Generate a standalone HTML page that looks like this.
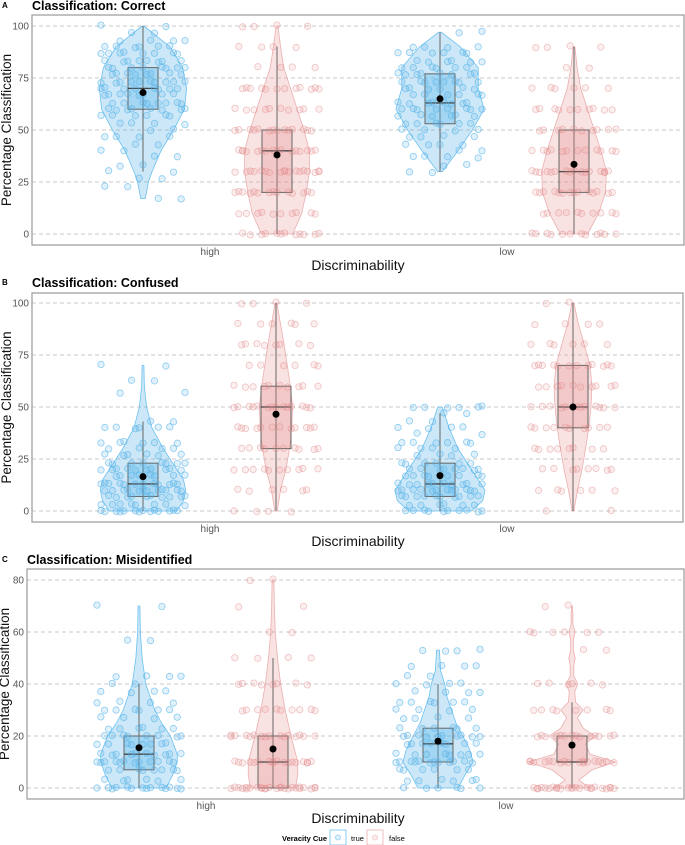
<!DOCTYPE html>
<html><head><meta charset="utf-8">
<style>
body{margin:0;background:#fff;}
svg{display:block;font-family:"Liberation Sans",sans-serif;}
</style></head>
<body>
<svg id="chart" width="685" height="845" viewBox="0 0 685 845"></svg>
<script>
// ---------- data ----------
const categories = ["high","low"];
const groups = ["true","false"];
const panelTitles = ["Classification: Correct","Classification: Confused","Classification: Misidentified"];
const panelLetters = ["A","B","C"];
const tickLabelsA = [0,25,50,75,100];
const tickLabelsB = [0,25,50,75,100];
const tickLabelsC = [0,20,40,60,80];
const q1s   = [60,20,53,20,  7,30,7,40,  7,0,10,10];
const meds  = [70,40,63,30, 13,50,13,50, 13,10,17,10];
const q3s   = [80,50,77,50, 23,60,23,70, 20,20,23,20];
const whLo  = [30,0,30,0,   0,0,0,0,     0,0,0,0];
const whHi  = [100,90,97,90, 43,100,47,100, 40,50,40,33];
const means = [68,38,65,33.5, 16.5,46.5,17,50, 15.5,15,18,16.5];
const vLevels = [
 [17,25,30,40,50,60,70,80,90,100],
 [0,10,20,30,40,50,60,70,80,90,100],
 [30,40,50,60,70,80,90,97],
 [0,10,20,30,40,50,60,70,80,90],
 [0,5,10,15,20,25,30,40,50,60,70],
 [0,10,20,30,40,50,60,70,80,90,100],
 [0,5,10,15,20,25,30,40,50],
 [0,10,20,30,40,50,60,70,80,90,100],
 [0,5,10,13,20,25,30,40,50,60,70],
 [0,5,10,20,30,40,50,60,70,80],
 [0,5,10,15,20,25,30,35,40,45,53],
 [0,3,7,10,13,17,20,23,27,30,33,37,40,43,47,50,53,57,60,63,67,70]
];
const vDens = [
 [0.05,0.12,0.2,0.4,0.68,0.92,0.97,0.88,0.6,0.02],
 [0.35,0.55,0.65,0.72,0.72,0.6,0.45,0.3,0.15,0.08,0.02],
 [0.05,0.4,0.72,0.98,0.85,0.85,0.45,0.03],
 [0.3,0.55,0.7,0.72,0.6,0.45,0.3,0.15,0.07,0.02],
 [0.75,0.9,0.95,0.9,0.75,0.6,0.45,0.2,0.08,0.03,0.02],
 [0.03,0.1,0.22,0.3,0.35,0.37,0.32,0.25,0.18,0.1,0.02],
 [0.7,0.95,1,0.85,0.7,0.55,0.4,0.2,0.05],
 [0.02,0.1,0.2,0.28,0.35,0.4,0.42,0.38,0.25,0.12,0.02],
 [0.6,0.75,0.85,0.85,0.7,0.5,0.35,0.15,0.07,0.03,0.02],
 [0.5,0.55,0.55,0.4,0.27,0.17,0.1,0.05,0.03,0.02],
 [0.45,0.6,0.78,0.7,0.55,0.4,0.3,0.2,0.15,0.06,0.03],
 [0.4,0.15,0.45,0.97,0.4,0.3,0.5,0.25,0.12,0.25,0.08,0.06,0.13,0.04,0.04,0.07,0.03,0.03,0.07,0.02,0.02,0.01]
];
const pointVals = [
 [100,97,93,93,90,90,90,87,87,87,87,83,83,83,83,80,80,80,80,77,77,77,77,73,73,73,73,73,70,70,70,70,67,67,67,67,63,63,63,63,60,60,60,60,57,57,57,53,53,50,47,47,43,40,37,33,30,27,23,17],
 [100,100,90,90,80,80,70,70,70,70,70,70,60,60,60,60,60,50,50,50,50,50,50,50,40,40,40,40,40,40,40,40,30,30,30,30,30,30,30,30,30,20,20,20,20,20,20,20,10,10,10,10,10,0,0,0,0,0,0],
 [97,90,90,87,87,87,83,83,83,80,80,80,77,77,77,77,73,73,73,73,70,70,70,67,67,67,63,63,63,63,60,60,60,60,57,57,57,53,53,53,50,50,47,47,43,43,40,37,37,33,30],
 [90,90,80,70,70,70,60,60,60,60,60,50,50,50,50,50,40,40,40,40,40,40,30,30,30,30,30,30,30,30,20,20,20,20,20,20,20,10,10,10,10,10,0,0,0,0,0,0],
 [70,63,57,43,40,40,40,33,33,33,30,30,27,27,27,23,23,23,23,20,20,20,20,20,17,17,17,17,13,13,13,13,13,13,10,10,10,10,10,10,7,7,7,7,7,3,3,3,3,0,0,0,0,0,0,0],
 [100,100,90,90,90,80,80,80,80,70,70,70,60,60,60,60,60,50,50,50,50,50,50,50,40,40,40,40,40,40,30,30,30,30,30,20,20,20,20,20,10,10,10,0,0],
 [50,50,50,47,43,40,40,37,33,33,33,30,30,27,27,23,23,23,20,20,20,20,17,17,17,17,13,13,13,13,13,10,10,10,10,10,10,7,7,7,7,7,3,3,3,0,0,0,0,0],
 [100,90,90,80,80,80,70,70,70,70,70,70,60,60,60,60,60,50,50,50,50,50,50,40,40,40,40,40,30,30,30,30,20,20,20,20,10,10,10,0],
 [70,57,43,43,40,37,37,33,33,30,30,30,27,27,23,23,23,20,20,20,20,17,17,17,17,13,13,13,13,13,10,10,10,10,10,10,7,7,7,7,3,3,3,0,0,0,0,0,0,0],
 [80,70,60,50,50,40,40,40,40,30,30,30,30,30,20,20,20,20,20,20,20,20,10,10,10,10,10,10,10,10,10,0,0,0,0,0,0,0,0,0,0,0,0,0],
 [53,53,47,47,43,40,40,37,37,33,33,33,30,30,27,27,23,23,23,20,20,20,20,20,17,17,17,17,13,13,13,13,10,10,10,10,10,10,7,7,7,3,3,3,0,0,0],
 [70,60,60,60,53,40,40,40,30,30,30,30,20,20,20,20,20,20,20,10,10,10,10,10,10,10,10,10,0,0,0,0,0,0,0,0,0,0,0,0]
];

// ---------- layout ----------
const panels = [
 {box:[32,15,684,245], y0:234, yTop:26, max:100, ticks:tickLabelsA, titleY:10, catY:255, axY:270, xs:[143,277,440,574], catX:[210,507], ytX:11},
 {box:[32,293,683,522], y0:511, yTop:303, max:100, ticks:tickLabelsB, titleY:287, catY:532, axY:546, xs:[143,276,440,573], catX:[210,507], ytX:11},
 {box:[27,569,684,799], y0:788, yTop:580, max:80, ticks:tickLabelsC, titleY:564, catY:809, axY:823, xs:[139,273,438,572], catX:[206,506], ytX:9}
];
const col = {
 "true":{fill:"rgba(86,180,233,0.3)",stroke:"#6cc0ef",box:"rgba(86,180,233,0.35)",pf:"rgba(86,180,233,0.18)",ps:"rgba(86,180,233,0.65)"},
 "false":{fill:"rgba(232,150,150,0.28)",stroke:"#eab0b0",box:"rgba(225,140,140,0.3)",pf:"rgba(232,150,150,0.15)",ps:"rgba(225,130,130,0.45)"}
};
const NS="http://www.w3.org/2000/svg";
const svg=document.getElementById('chart');
function mk(tag,attrs,parent){const e=document.createElementNS(NS,tag);for(const k in attrs)e.setAttribute(k,attrs[k]);(parent||svg).appendChild(e);return e;}

panels.forEach((p,pi)=>{
  const g=mk('g',{});
  
  
  const yS=v=>p.y0-(v/p.max)*(p.y0-p.yTop);
  const [bx0,by0,bx1,by1]=p.box;
  const yt=mk('text',{x:0,y:0,"font-size":"13.5",fill:"#111","text-anchor":"middle",transform:`translate(${p.ytX},${(by0+by1)/2}) rotate(-90)`},g);
  yt.textContent="Percentage Classification";
  
  
  p.ticks.forEach(t=>{
    const l=mk('line',{x1:bx0,x2:bx1,y1:yS(t),y2:yS(t),stroke:"#c8c8c8","stroke-dasharray":"4,3","stroke-width":1},g);
    
    
    const tx=mk('text',{x:bx0-3,y:yS(t)+3.5,"text-anchor":"end","font-size":"10",fill:"#555"},g);
    tx.textContent=String(t);
    
    
  });
  const fr=mk('rect',{x:bx0,y:by0,width:bx1-bx0,height:by1-by0,fill:"none",stroke:"#999","stroke-width":1.2},g);
  
  
  const lt=mk('text',{x:2,y:p.titleY-2,"font-size":"8","font-weight":"bold",fill:"#000"},g);
  lt.textContent=panelLetters[pi];
  
  
  const tt=mk('text',{x:bx0,y:p.titleY,"font-size":"12.5","font-weight":"bold",fill:"#000"},g);
  tt.textContent=panelTitles[pi];
  
  
  categories.forEach((c,ci)=>{
    const ct=mk('text',{x:p.catX[ci],y:p.catY,"font-size":"10",fill:"#555","text-anchor":"middle"},g);
    ct.textContent=c;
    
    
  });
  const xt=mk('text',{x:358,y:p.axY,"font-size":"14",fill:"#111","text-anchor":"middle"},g);
  xt.textContent="Discriminability";
  
  
  for(let k=0;k<4;k++){
    const idx=pi*4+k, grp=groups[k%2], c=col[grp], cx=p.xs[k];
    const lv=vLevels[idx], dn=vDens[idx], HW=45;
    let pts=[];
    for(let i=0;i<lv.length;i++)pts.push([cx+dn[i]*HW,yS(lv[i])]);
    for(let i=lv.length-1;i>=0;i--)pts.push([cx-dn[i]*HW,yS(lv[i])]);
    const vi=mk('polygon',{points:pts.map(q=>q.join(',')).join(' '),fill:c.fill,stroke:c.stroke,"stroke-width":0.8,"stroke-linejoin":"round"},g);
    
    
    const wl=mk('line',{x1:cx,x2:cx,y1:yS(whLo[idx]),y2:yS(whHi[idx]),stroke:"#666","stroke-width":1},g);
    
    
    const bw=15;
    const br=mk('rect',{x:cx-bw,y:yS(q3s[idx]),width:2*bw,height:yS(q1s[idx])-yS(q3s[idx]),fill:c.box,stroke:"#666","stroke-width":1},g);
    
    
    const md=mk('line',{x1:cx-bw,x2:cx+bw,y1:yS(meds[idx]),y2:yS(meds[idx]),stroke:"#444","stroke-width":1.3},g);
    
    
    const vals=pointVals[idx];
    for(let pass=0;pass<2;pass++){
      vals.forEach((v,i)=>{
        const jx=(((i*37+k*11+pass*17)%23)/11-1)*42;
        const jy=(((i*13+pass*5)%7)-3)*0.3;
        const pt=mk('circle',{cx:cx+jx,cy:yS(v)+jy,r:3.2,fill:c.pf,stroke:c.ps,"stroke-width":0.8},g);
        
        
      });
    }
    const mn=mk('circle',{cx:cx,cy:yS(means[idx]),r:3.5,fill:"#000"},g);
    
    
  }
});
const lg=mk('g',{});


const lt=mk('text',{x:282,y:841,"font-size":"7.5","font-weight":"bold",fill:"#000"},lg);
lt.textContent="Veracity Cue";


[["true",330,351],["false",367,389]].forEach(([gname,bx,tx])=>{
  const c=col[gname];
  const r=mk('rect',{x:bx,y:830,width:16,height:15,fill:"#fff",stroke:c.stroke,"stroke-width":0.8},lg);
  
  
  const ci=mk('circle',{cx:bx+8,cy:837.5,r:2.5,fill:c.pf,stroke:c.ps,"stroke-width":0.8},lg);
  
  
  const t=mk('text',{x:tx,y:841,"font-size":"7.5",fill:"#000"},lg);
  t.textContent=gname;
  
  
});
</script>
</body></html>
